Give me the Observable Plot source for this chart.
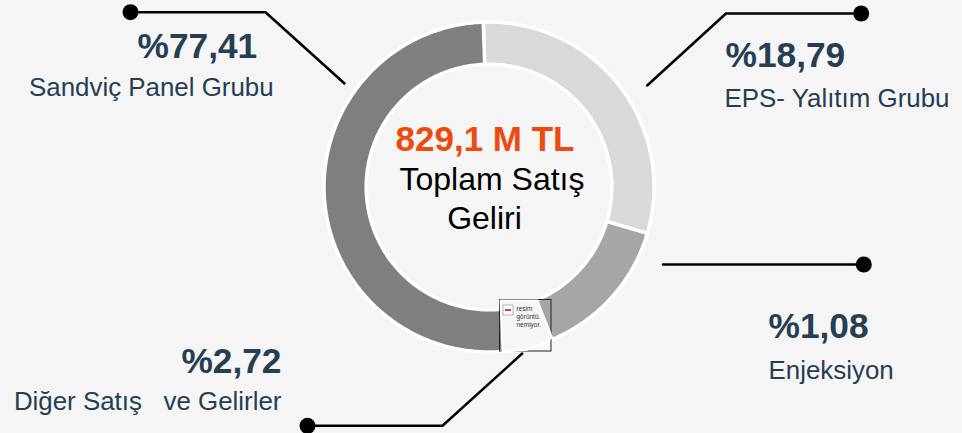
<!DOCTYPE html>
<html><head><meta charset="utf-8">
<script src="https://cdn.jsdelivr.net/npm/d3@7"></script>
<script src="https://cdn.jsdelivr.net/npm/@observablehq/plot@0.6"></script>
<style>html,body{margin:0;padding:0;background:#f5f5f5}svg{display:block}</style>
</head><body><div id="chart"></div>
<script>
// Drawn slice extents, in degrees clockwise from 12 o'clock
const sliceNames = ["EPS- Yalıtım Grubu", "Enjeksiyon", "Sandviç Panel Grubu"];
const sliceStart = [-2, 106.3, 168];
const sliceEnd = [106.3, 168, 358];
const sliceFill = ["#d9d9d9", "#a6a6a6", "#7f7f7f"];

const percents = ["%77,41", "%18,79", "%1,08", "%2,72"];
const labels = ["Sandviç Panel Grubu", "EPS- Yalıtım Grubu", "Enjeksiyon", "Diğer Satış   ve Gelirler"];

// Annotation layout
const percentAt = [[137, 57, "start"], [725, 66, "start"], [768, 337, "start"], [281, 372, "end"]];
const labelAt = [[28.5, 95, "start"], [724, 106, "start"], [768, 378, "start"], [281, 409, "end"]];
const leaders = [
  [[130, 11.7], [265, 11.7], [344, 83]],
  [[860.7, 13], [725.5, 13], [646.7, 85]],
  [[863.3, 264], [662.5, 264]],
  [[307, 425.3], [442, 425.3], [521.7, 353]]
];

const cx = 488.5, cy = 186.5, R = 165, r = 122.8;
const ringPoint = (deg, rad) => ({
  x: cx + rad * Math.sin(deg * Math.PI / 180),
  y: cy - rad * Math.cos(deg * Math.PI / 180)
});
const slicePoints = sliceNames.flatMap((name, i) => {
  const n = Math.ceil(sliceEnd[i] - sliceStart[i]);
  const steps = d3.range(n + 1).map(k => sliceStart[i] + (sliceEnd[i] - sliceStart[i]) * k / n);
  return [...steps.map(a => ringPoint(a, R)), ...steps.slice().reverse().map(a => ringPoint(a, r))]
    .map(p => ({...p, name, fill: sliceFill[i]}));
});

const leaderPoints = leaders.flatMap((pts, id) => pts.map(([x, y]) => ({x, y, id})));
const leaderEnds = leaders.map(pts => ({x: pts[0][0], y: pts[0][1]}));

const patchQuad = [[500, 300], [537, 300], [551.5, 337], [541, 344.5], [525, 349.5], [502, 351]].map(([x, y]) => ({x, y}));
const patchBox = [{x1: 499.5, x2: 551, y1: 299.5, y2: 351}];
const patchLines = ["resim", "görüntü.", "nemiyor."];
const ff = "Liberation Sans, Arial, sans-serif";

const annotate = (texts, at, opts) => ["start", "end"].map(anchor => {
  const rows = texts.map((text, i) => ({text, x: at[i][0], y: at[i][1], anchor: at[i][2]})).filter(d => d.anchor === anchor);
  return Plot.text(rows, {x: "x", y: "y", text: "text", textAnchor: anchor, lineAnchor: "bottom", ...opts});
});

const chart = Plot.plot({
  width: 962, height: 433,
  marginTop: 0, marginRight: 0, marginBottom: 0, marginLeft: 0,
  style: {background: "#f5f5f5", fontFamily: ff},
  x: {domain: [0, 962], range: [0, 962], axis: null},
  y: {domain: [0, 433], range: [0, 433], axis: null},
  color: {type: "identity"},
  marks: [
    Plot.line(slicePoints, {x: "x", y: "y", z: "name", fill: "fill", stroke: "white", strokeWidth: 3.5, curve: "linear-closed"}),
    Plot.rect(patchBox, {x1: "x1", x2: "x2", y1: "y1", y2: "y2", fill: "none", stroke: "#222", strokeWidth: 1}),
    Plot.line(patchQuad, {x: "x", y: "y", fill: "#f6f6f6", stroke: "white", strokeWidth: 2, curve: "linear-closed"}),
    Plot.rect([{x1: 503, x2: 513, y1: 305, y2: 315}], {x1: "x1", x2: "x2", y1: "y1", y2: "y2", fill: "white", stroke: "#999", strokeWidth: 0.7}),
    Plot.rect([{x1: 505, x2: 511, y1: 309, y2: 311}], {x1: "x1", x2: "x2", y1: "y1", y2: "y2", fill: "#d9453a"}),
    Plot.text(patchLines, {x: 516, y: (d, i) => 308.5 + i * 8, text: d => d, textAnchor: "start", fontSize: 6.5, fill: "#333"}),
    Plot.line(leaderPoints, {x: "x", y: "y", z: "id", stroke: "#000", strokeWidth: 2.5}),
    Plot.dot(leaderEnds, {x: "x", y: "y", r: 8, fill: "#000"}),
    ...annotate(percents, percentAt, {fontSize: 35.3, fontWeight: "bold", fill: "#263e52"}),
    ...annotate(labels, labelAt, {fontSize: 25.9, fill: "#263e52"}),
    Plot.text(["829,1 M TL"], {x: 484.5, y: 150, text: d => d, textAnchor: "middle", lineAnchor: "bottom", fontSize: 35, fontWeight: "bold", fill: "#ec4a0f"}),
    Plot.text(["Toplam Satış"], {x: 491.5, y: 189, text: d => d, textAnchor: "middle", lineAnchor: "bottom", fontSize: 32, fill: "#000"}),
    Plot.text(["Geliri"], {x: 484, y: 228, text: d => d, textAnchor: "middle", lineAnchor: "bottom", fontSize: 32, fill: "#000"})
  ]
});
document.getElementById("chart").append(chart);
</script></body></html>
